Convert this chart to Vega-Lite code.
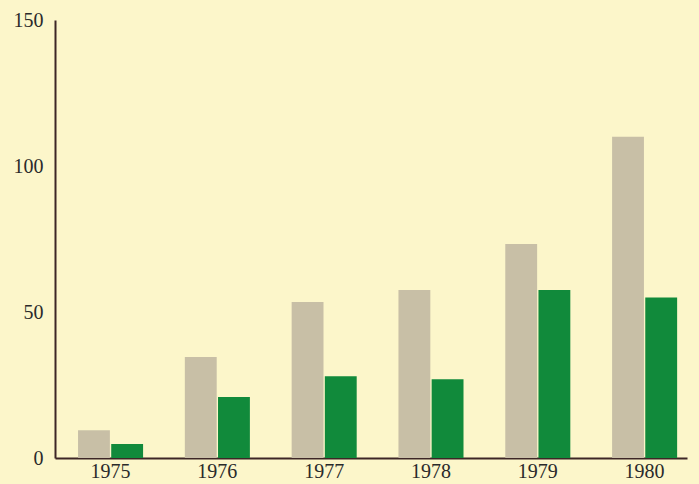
{
  "$schema": "https://vega.github.io/schema/vega-lite/v6.json",
  "width": 632,
  "height": 438,
  "autosize": {"type": "none"},
  "padding": {"left": 55, "top": 20, "right": 12, "bottom": 26},
  "background": "#fcf6ca",
  "config": {"view": {"stroke": null}},
  "data": {
    "values": [
      {"year": "1975", "series": "A", "value": 9.5},
      {"year": "1975", "series": "B", "value": 4.8},
      {"year": "1976", "series": "A", "value": 34.6},
      {"year": "1976", "series": "B", "value": 20.9},
      {"year": "1977", "series": "A", "value": 53.4},
      {"year": "1977", "series": "B", "value": 28},
      {"year": "1978", "series": "A", "value": 57.5},
      {"year": "1978", "series": "B", "value": 27},
      {"year": "1979", "series": "A", "value": 73.3},
      {"year": "1979", "series": "B", "value": 57.5},
      {"year": "1980", "series": "A", "value": 110},
      {"year": "1980", "series": "B", "value": 55}
    ]
  },
  "mark": {"type": "bar"},
  "encoding": {
    "x": {
      "field": "year",
      "type": "nominal",
      "scale": {"paddingInner": 0.391, "paddingOuter": 0.154, "align": 0.7},
      "axis": {
        "title": null,
        "labelAngle": 0,
        "ticks": false,
        "domainColor": "#3d2626",
        "domainWidth": 2,
        "labelFont": "Liberation Serif",
        "labelFontSize": 20,
        "labelColor": "#2a2a2a",
        "labelPadding": 3
      }
    },
    "xOffset": {"field": "series", "type": "nominal", "scale": {"paddingInner": 0.04}},
    "y": {
      "field": "value",
      "type": "quantitative",
      "scale": {"domain": [0, 150], "nice": false},
      "axis": {
        "title": null,
        "values": [0, 50, 100, 150],
        "ticks": false,
        "grid": false,
        "domainColor": "#3d2626",
        "domainWidth": 2,
        "labelFont": "Liberation Serif",
        "labelFontSize": 20,
        "labelColor": "#2a2a2a",
        "labelPadding": 12
      }
    },
    "color": {
      "field": "series",
      "type": "nominal",
      "scale": {"domain": ["A", "B"], "range": ["#c8bfa6", "#118a3b"]},
      "legend": null
    }
  }
}
